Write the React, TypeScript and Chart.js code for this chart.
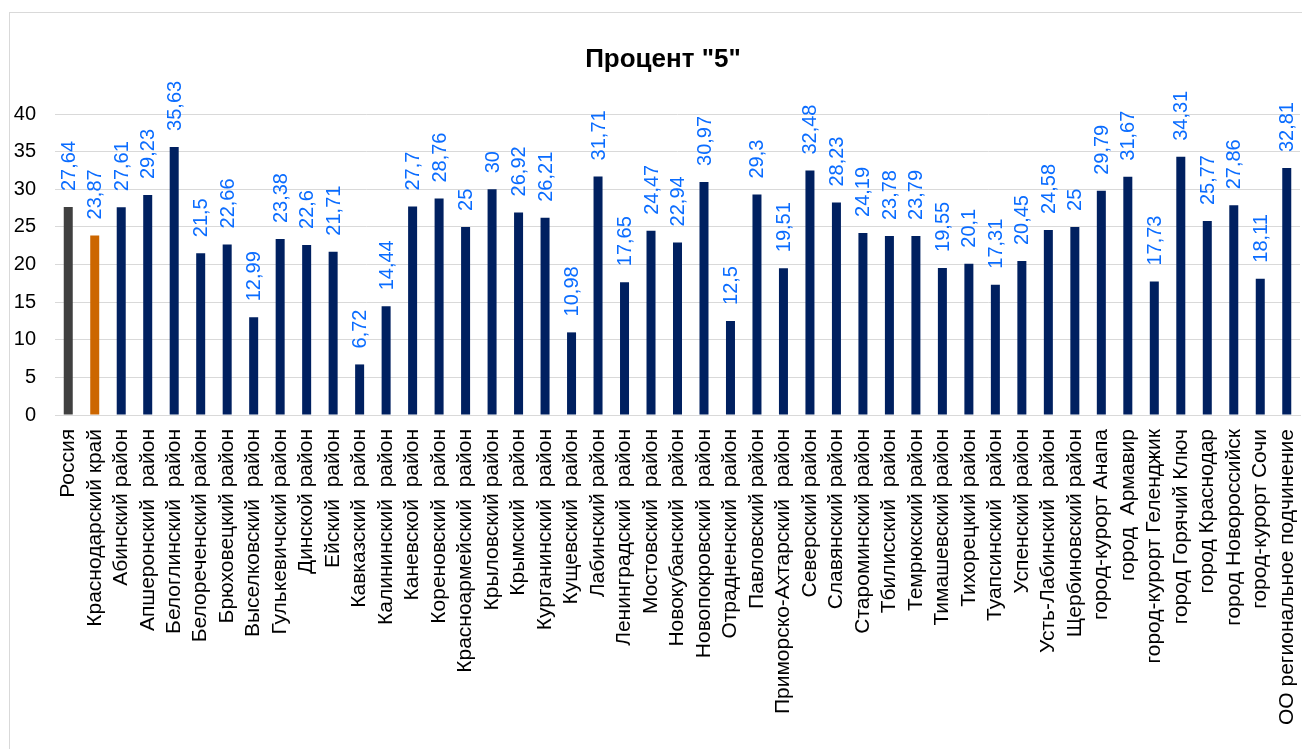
import React, { useEffect, useRef } from "react";
import { Chart, registerables } from "chart.js";

Chart.register(...registerables);

const categories: string[] = [
  "Россия",
  "Краснодарский край",
  "Абинский район",
  "Апшеронский  район",
  "Белоглинский  район",
  "Белореченский район",
  "Брюховецкий район",
  "Выселковский  район",
  "Гулькевичский район",
  "Динской район",
  "Ейский  район",
  "Кавказский  район",
  "Калининский  район",
  "Каневской  район",
  "Кореновский  район",
  "Красноармейский  район",
  "Крыловский район",
  "Крымский  район",
  "Курганинский  район",
  "Кущевский  район",
  "Лабинский район",
  "Ленинградский  район",
  "Мостовский  район",
  "Новокубанский  район",
  "Новопокровский  район",
  "Отрадненский  район",
  "Павловский район",
  "Приморско-Ахтарский  район",
  "Северский район",
  "Славянский район",
  "Староминский район",
  "Тбилисский  район",
  "Темрюкский район",
  "Тимашевский район",
  "Тихорецкий район",
  "Туапсинский  район",
  "Успенский район",
  "Усть-Лабинский  район",
  "Щербиновский район",
  "город-курорт Анапа",
  "город  Армавир",
  "город-курорт Геленджик",
  "город Горячий Ключ",
  "город Краснодар",
  "город Новороссийск",
  "город-курорт Сочи",
  "ОО региональное подчинение",
];

const values: number[] = [
  27.64, 23.87, 27.61, 29.23, 35.63, 21.5, 22.66, 12.99, 23.38, 22.6, 21.71,
  6.72, 14.44, 27.7, 28.76, 25, 30, 26.92, 26.21, 10.98, 31.71, 17.65, 24.47,
  22.94, 30.97, 12.5, 29.3, 19.51, 32.48, 28.23, 24.19, 23.78, 23.79, 19.55,
  20.1, 17.31, 20.45, 24.58, 25, 29.79, 31.67, 17.73, 34.31, 25.77, 27.86,
  18.11, 32.81,
];

const yTicks: number[] = [0, 5, 10, 15, 20, 25, 30, 35, 40];

const titleText = 'Процент "5"';

const FONT = "'Liberation Sans', Arial, sans-serif";

const valueLabelPlugin = {
  id: "valueLabels",
  afterDatasetsDraw(chart: any) {
    const ctx = chart.ctx;
    const meta = chart.getDatasetMeta(0);
    ctx.save();
    ctx.font = `20px ${FONT}`;
    ctx.fillStyle = "#0a6cff";
    ctx.textAlign = "left";
    ctx.textBaseline = "middle";
    meta.data.forEach((bar: any, i: number) => {
      const txt = String(values[i]).replace(".", ",");
      ctx.save();
      ctx.translate(bar.x + 1, bar.y - 16);
      ctx.rotate(-Math.PI / 2);
      ctx.fillText(txt, 0, 0);
      ctx.restore();
    });
    ctx.restore();
  },
};

const titlePlugin = {
  id: "boxTitle",
  afterDraw(chart: any) {
    const ctx = chart.ctx;
    ctx.save();
    ctx.font = `bold 26px ${FONT}`;
    ctx.fillStyle = "#000000";
    ctx.textAlign = "center";
    ctx.textBaseline = "middle";
    ctx.fillText(titleText, 663, 60);
    ctx.restore();
  },
};

export default function App() {
  const ref = useRef<HTMLCanvasElement | null>(null);

  useEffect(() => {
    if (!ref.current) return;
    const colors = values.map((_, i) =>
      i === 0 ? "#404040" : i === 1 ? "#cc6600" : "#002060"
    );
    const chart = new Chart(ref.current, {
      type: "bar",
      data: {
        labels: categories,
        datasets: [
          {
            data: values,
            backgroundColor: colors,
            borderWidth: 0,
            barPercentage: 0.34,
            categoryPercentage: 1,
          },
        ],
      },
      plugins: [valueLabelPlugin, titlePlugin],
      options: {
        responsive: false,
        animation: false,
        devicePixelRatio: 1,
        layout: { padding: { top: 114, right: 2, left: 0, bottom: 0 } },
        plugins: {
          legend: { display: false },
          tooltip: { enabled: false },
          title: { display: false },
        },
        scales: {
          x: {
            grid: { display: false, drawTicks: false },
            border: { display: true, color: "#d9d9d9", width: 1 },
            ticks: {
              autoSkip: false,
              minRotation: 90,
              maxRotation: 90,
              padding: 14,
              color: "#000000",
              font: { family: FONT, size: 21 },
            },
            afterFit(scale: any) {
              scale.height = 334;
              scale.paddingLeft = 0;
              scale.paddingRight = 0;
            },
          },
          y: {
            min: 0,
            max: 40,
            afterBuildTicks(scale: any) {
              scale.ticks = yTicks.map((v) => ({ value: v }));
            },
            grid: { color: "#d9d9d9", lineWidth: 1, drawTicks: false },
            border: { display: false },
            ticks: {
              padding: 19,
              color: "#000000",
              font: { family: FONT, size: 20 },
            },
            afterFit(scale: any) {
              scale.width = 55;
              scale.paddingTop = 0;
              scale.paddingBottom = 0;
            },
          },
        },
      },
    });
    return () => chart.destroy();
  }, []);

  return (
    <div
      style={{
        position: "absolute",
        left: 0,
        top: 0,
        width: 1302,
        height: 749,
        overflow: "hidden",
        background: "#ffffff",
      }}
    >
      <div
        style={{
          position: "absolute",
          left: 9,
          top: 12,
          width: 1320,
          height: 780,
          border: "1px solid #d9d9d9",
          boxSizing: "border-box",
        }}
      />
      <canvas
        ref={ref}
        width={1302}
        height={749}
        style={{ position: "absolute", left: 0, top: 0, width: 1302, height: 749 }}
      />
    </div>
  );
}
